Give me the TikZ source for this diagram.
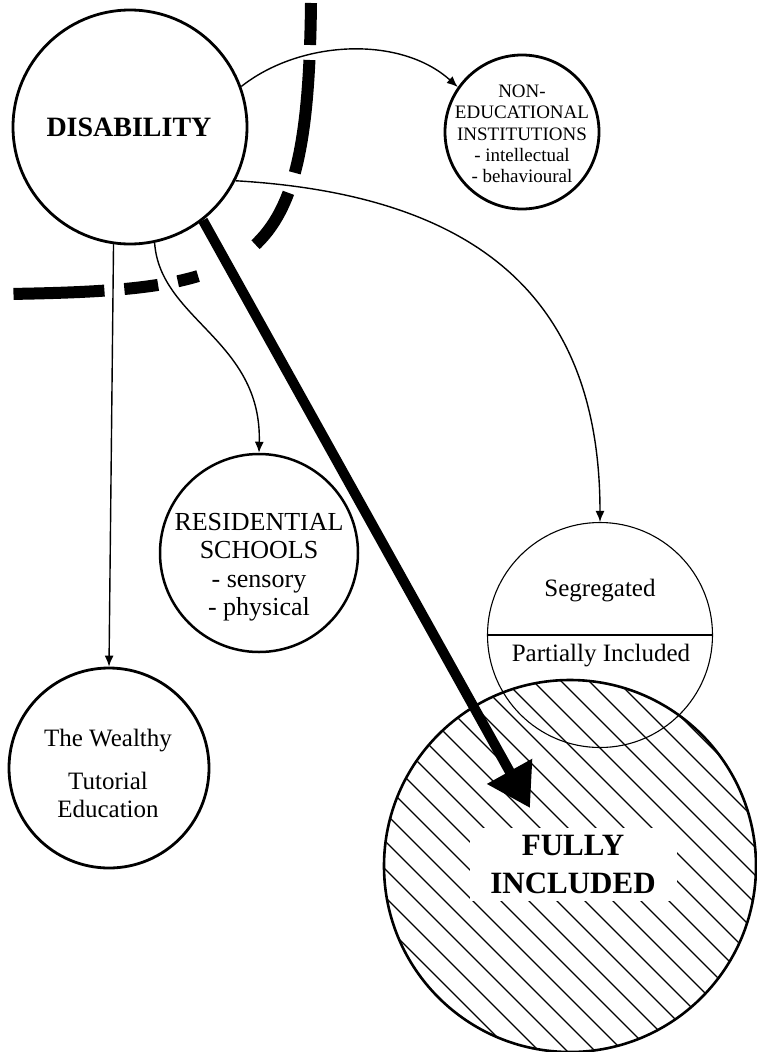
\documentclass[tikz,border=0pt]{standalone}
\usepackage{fontspec}
\setmainfont{Liberation Serif}
\usetikzlibrary{arrows.meta}
\begin{document}
\begin{tikzpicture}[x=1pt,y=-1pt,
  circ/.style={circle, draw, line width=2.8pt, inner sep=0pt},
  lbl/.style={align=center, inner sep=0pt},
  conn/.style={line width=1.4pt, -{Latex[length=11pt,width=9pt]}},
  hatch/.style={line width=1.2pt},
  barrier/.style={line width=12pt, dash pattern=on 42pt off 15pt on 114pt off 21pt on 62pt off 66pt on 21pt off 20pt on 34pt off 20pt on 91pt off 100pt},
  bigarrow/.style={line width=10pt, -{Triangle[length=42pt,width=49pt]}},
]
\useasboundingbox (0,0) rectangle (757,1052);

% circles
\node[circ, minimum size=234pt] (dis) at (130,127) {};
\node[circ, minimum size=154pt] (non) at (522,132) {};
\node[circ, minimum size=198pt, line width=2.5pt] (res) at (259,553) {};
\node[circ, minimum size=200pt] (wealthy) at (109,768) {};
\node[circ, minimum size=372pt, line width=2.6pt] (full) at (570,866) {};

% hatching of the fully included circle
\begin{scope}
  \clip (full.center) circle[radius=185pt];
  \foreach \c in {-680,-652,...,100}
    \draw[hatch] ({\c+650},650) -- ({\c+1070},1070);
\end{scope}

\node[circle, draw, line width=1.1pt, minimum size=225pt, inner sep=0pt] (seg) at (600,635) {};
\draw[line width=1.3pt] (seg.west) -- (seg.east);

% texts
\node[lbl, font=\fontsize{28}{32}\selectfont\bfseries] (distext) at (129,127) {DISABILITY};
\node[lbl, font=\fontsize{19}{21.2}\selectfont] (nontext) at (522,134) {NON-\\EDUCATIONAL\\INSTITUTIONS\\- intellectual\\- behavioural};
\node[lbl, font=\fontsize{26}{28.5}\selectfont] (restext) at (259,567) {RESIDENTIAL\\SCHOOLS\\- sensory\\- physical};
\node[lbl, font=\fontsize{25}{28}\selectfont] (wealthytext) at (108,773) {The Wealthy\\[15pt]Tutorial\\Education};
\node[lbl, font=\fontsize{25}{28}\selectfont] (segtext) at (600,591) {Segregated};
\node[lbl, font=\fontsize{25}{28}\selectfont] (parttext) at (601,656) {Partially Included};
\node[lbl, fill=white, minimum width=207pt, minimum height=73pt, font=\fontsize{31}{38}\selectfont\bfseries] (fulltext) at (573,864) {FULLY\\INCLUDED};

% barrier
\draw[barrier] (311,3) .. controls (308,270) and (260,290) .. (8,294);

% connectors
\draw[conn] (dis.20) .. controls (300,40) and (400,35) .. (non.145);
\draw[conn] (dis.-27) .. controls (480,195) and (600,300) .. (seg.north);
\draw[conn] (dis.-98) -- (wealthy.north);
\draw[conn] (dis.-78) .. controls (160,320) and (262,340) .. (res.north);

\coordinate (fulltip) at (530,808);
\draw[bigarrow] (dis.-52) -- (fulltip);
\end{tikzpicture}
\end{document}
